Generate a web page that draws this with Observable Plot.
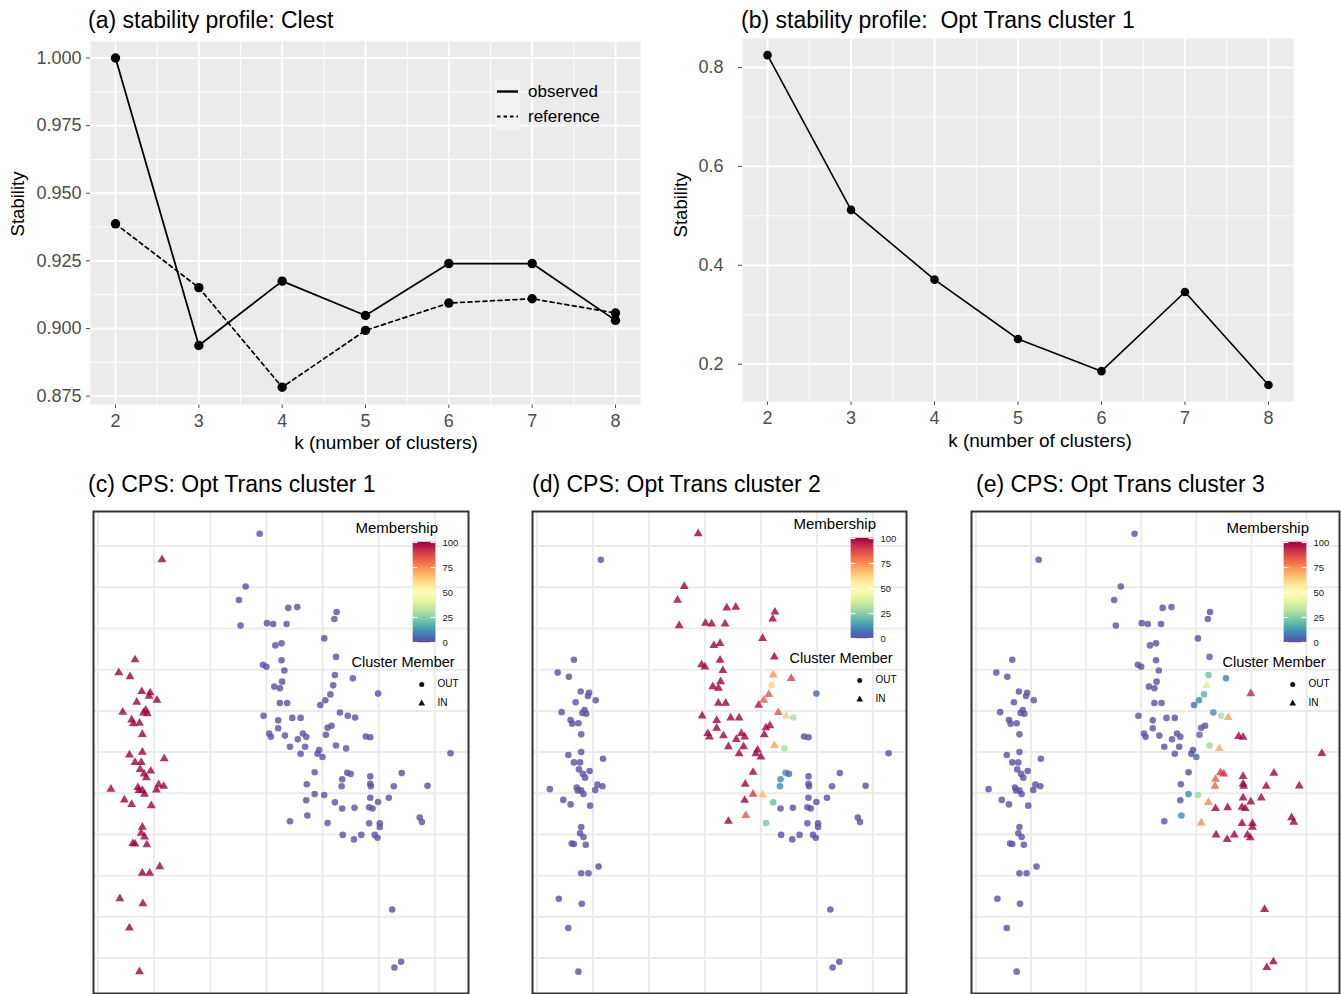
<!DOCTYPE html>
<html><head><meta charset="utf-8">
<script src="https://cdn.jsdelivr.net/npm/d3@7"></script>
<script src="https://cdn.jsdelivr.net/npm/@observablehq/plot@0.6"></script>
<style>
html,body{margin:0;padding:0;background:#fff;}
#root{position:relative;width:1341px;height:994px;overflow:hidden;font-family:"Liberation Sans",Arial,Helvetica,sans-serif;background:#fff;}
.t{position:absolute;white-space:pre;line-height:1;transform:translateY(-50%);color:#000;}
.tc{position:absolute;white-space:pre;line-height:1;transform:translate(-50%,-50%);color:#000;}
.tr{position:absolute;white-space:pre;line-height:1;transform:translate(-50%,-50%) rotate(-90deg);color:#000;}
.box{position:absolute;}
</style></head><body><div id="root"></div>
<script>
// ---------------- data: stability profiles ----------------
const kValues = [2, 3, 4, 5, 6, 7, 8];
const kMinor = [2.5, 3.5, 4.5, 5.5, 6.5, 7.5];
const clestObserved  = [1.000, 0.8937, 0.9175, 0.9048, 0.9240, 0.9240, 0.9030];
const clestReference = [0.9387, 0.9151, 0.8783, 0.8993, 0.9094, 0.9110, 0.9057];
const clestMajorY = [0.875, 0.900, 0.925, 0.950, 0.975, 1.000];
const clestMinorY = [0.8875, 0.9125, 0.9375, 0.9625, 0.9875];
const optTransStability = [0.825, 0.512, 0.371, 0.251, 0.186, 0.346, 0.158];
const optMajorY = [0.2, 0.4, 0.6, 0.8];
const optMinorY = [0.3, 0.5, 0.7];
const legendSeries = ["observed", "reference"];

// ---------------- data: CPS point map (shared layout, grid units) ----------------
const pointX = [
  1.14,0.66,0.37,0.57,0.78,0.93,0.91,0.69,1.05,0.44,
  0.85,0.81,0.88,0.60,0.63,0.74,0.79,0.56,0.79,1.18,
  0.66,0.77,0.75,0.94,0.82,0.86,0.23,0.71,0.79,0.73,
  1.08,1.17,1.04,0.83,0.47,0.60,0.95,0.79,0.77,0.83,
  0.62,0.66,0.87,1.10,0.79,0.92,0.39,0.80,0.56,0.74,
  2.88,2.63,2.51,2.54,3.39,3.55,3.01,3.12,3.36,4.25,
  4.21,4.03,3.16,3.27,3.27,4.24,2.94,3.00,3.32,4.22,
  4.54,3.14,3.24,3.28,4.19,4.14,4.05,3.96,3.24,3.37,
  4.99,2.95,3.21,3.46,3.61,3.21,4.31,4.45,4.58,3.05,
  3.08,3.33,3.65,3.71,3.56,4.09,4.16,4.06,3.42,3.69,
  3.61,4.24,4.42,3.94,3.91,4.00,4.77,4.85,6.28,3.86,
  4.44,4.50,4.35,4.85,5.41,3.72,4.34,4.85,4.86,5.27,
  5.87,3.86,4.03,3.71,4.85,4.99,5.18,4.22,4.35,4.57,
  4.83,4.89,3.73,3.42,4.09,4.83,5.02,5.02,5.73,5.77,
  4.36,4.56,4.69,4.93,4.98,5.24,5.28,5.40
];
const pointY = [
  11.67,9.24,8.93,8.83,8.47,8.44,8.36,8.21,8.26,7.97,
  8.02,7.95,7.93,7.78,7.69,7.70,7.43,6.93,7.00,6.84,
  6.75,6.75,6.58,6.54,6.47,6.38,6.10,6.14,6.07,6.07,
  6.21,6.17,6.08,5.98,5.84,5.73,5.70,5.18,5.03,4.94,
  4.78,4.77,4.75,4.22,4.06,4.06,3.44,3.32,2.73,1.67,
  12.30,11.02,10.69,10.07,10.50,10.52,10.13,10.11,10.11,10.40,
  10.23,9.76,9.59,9.64,9.23,9.31,9.12,9.07,8.98,8.87,
  8.79,8.59,8.55,8.71,8.62,8.40,8.26,8.14,8.19,8.19,
  8.42,7.88,7.77,7.83,7.83,7.58,7.96,7.88,7.84,7.45,
  7.37,7.40,7.45,7.37,7.31,7.59,7.64,7.42,7.13,7.13,
  6.96,7.16,7.09,7.05,6.96,6.88,7.38,7.36,6.97,6.51,
  6.50,6.47,6.34,6.41,6.49,6.22,6.17,6.23,6.17,6.17,
  6.18,5.98,5.96,5.83,5.89,5.79,5.89,5.78,5.63,5.65,
  5.66,5.63,5.46,5.32,5.28,5.27,5.27,5.18,5.41,5.30,
  4.99,4.88,4.99,4.99,4.92,3.18,1.77,1.91
];
// membership (0-100) and cluster-member flag (1 = IN, 0 = OUT) for each panel
const membershipC = [
  100,100,100,100,100,100,100,100,100,100,
  100,100,100,100,100,100,100,100,100,100,
  100,100,100,100,100,100,100,100,100,100,
  100,100,100,100,100,100,100,100,100,100,
  100,100,100,100,100,100,100,100,100,100,
  0,0,0,0,0,0,0,0,0,0, 0,0,0,0,0,0,0,0,0,0,
  0,0,0,0,0,0,0,0,0,0, 0,0,0,0,0,0,0,0,0,0,
  0,0,0,0,0,0,0,0,0,0, 0,0,0,0,0,0,0,0,0,0,
  0,0,0,0,0,0,0,0,0,0, 0,0,0,0,0,0,0,0,0,0,
  0,0,0,0,0,0,0,0,0,0, 0,0,0,0,0,0,0,0
];
const memberC = [
  1,1,1,1,1,1,1,1,1,1, 1,1,1,1,1,1,1,1,1,1,
  1,1,1,1,1,1,1,1,1,1, 1,1,1,1,1,1,1,1,1,1,
  1,1,1,1,1,1,1,1,1,1,
  0,0,0,0,0,0,0,0,0,0, 0,0,0,0,0,0,0,0,0,0,
  0,0,0,0,0,0,0,0,0,0, 0,0,0,0,0,0,0,0,0,0,
  0,0,0,0,0,0,0,0,0,0, 0,0,0,0,0,0,0,0,0,0,
  0,0,0,0,0,0,0,0,0,0, 0,0,0,0,0,0,0,0,0,0,
  0,0,0,0,0,0,0,0,0,0, 0,0,0,0,0,0,0,0
];
const membershipD = [
  0,0,0,0,0,0,0,0,0,0, 0,0,0,0,0,0,0,0,0,0,
  0,0,0,0,0,0,0,0,0,0, 0,0,0,0,0,0,0,0,0,0,
  0,0,0,0,0,0,0,0,0,0,
  100,100,100,100,100,100,100,100,100,100,
  100,100,100,100,100,100,100,100,100,75,
  90,100,100,100,62,85,83,97,100,100,
  4,100,100,100,100,100,86,64,30,100,
  100,100,100,100,100,100,100,100,100,100,
  100,72,30,100,100,100,0,0,0,100,
  10,5,10,0,0,100,10,0,0,0,
  0,90,68,100,0,0,0,20,0,0,
  0,0,85,100,22,0,0,0,0,0,
  0,0,0,0,0,0,0,0
];
const memberD = [
  0,0,0,0,0,0,0,0,0,0, 0,0,0,0,0,0,0,0,0,0,
  0,0,0,0,0,0,0,0,0,0, 0,0,0,0,0,0,0,0,0,0,
  0,0,0,0,0,0,0,0,0,0,
  1,1,1,1,1,1,1,1,1,1,
  1,1,1,1,1,1,1,1,1,1,
  1,1,1,1,0,1,1,1,1,1,
  0,1,1,1,1,1,1,1,0,1,
  1,1,1,1,1,1,1,1,1,1,
  1,1,0,1,1,1,0,0,0,1,
  0,0,0,0,0,1,0,0,0,0,
  0,1,1,1,0,0,0,0,0,0,
  0,0,1,1,0,0,0,0,0,0,
  0,0,0,0,0,0,0,0
];
const membershipE = [
  0,0,0,0,0,0,0,0,0,0, 0,0,0,0,0,0,0,0,0,0,
  0,0,0,0,0,0,0,0,0,0, 0,0,0,0,0,0,0,0,0,0,
  0,0,0,0,0,0,0,0,0,0,
  0,0,0,0,0,0,0,0,0,0,
  0,0,0,0,0,3,0,0,0,20,
  8,0,0,0,38,18,10,5,0,0,
  95,0,0,0,0,0,10,30,72,0,
  0,0,0,0,0,0,0,4,0,0,
  0,28,70,0,0,5,100,100,100,0,
  90,92,83,100,100,0,83,100,100,100,
  100,10,28,0,100,100,100,76,100,100,
  100,100,10,0,76,100,100,100,100,100,
  100,100,100,100,100,100,100,100
];
const memberE = [
  0,0,0,0,0,0,0,0,0,0, 0,0,0,0,0,0,0,0,0,0,
  0,0,0,0,0,0,0,0,0,0, 0,0,0,0,0,0,0,0,0,0,
  0,0,0,0,0,0,0,0,0,0,
  0,0,0,0,0,0,0,0,0,0,
  0,0,0,0,0,0,0,0,0,0,
  0,0,0,0,1,0,0,0,0,0,
  1,0,0,0,0,0,0,0,1,0,
  0,0,0,0,0,0,0,0,0,0,
  0,0,1,0,0,0,1,1,1,0,
  1,1,1,1,1,0,1,1,1,1,
  1,0,0,0,1,1,1,1,1,1,
  1,1,0,0,1,1,1,1,1,1,
  1,1,1,1,1,1,1,1
];
const scatterGridX = [0, 1, 2, 3, 4, 5, 6];
const scatterGridY = [1, 2, 3, 4, 5, 6, 7, 8, 9, 10, 11, 12];
const scatterXDomain = [-0.08, 6.6];
const scatterYDomain = [1.14, 12.84];
const membershipTicks = [0, 25, 50, 75, 100];
const memberKeys = ["OUT", "IN"];

// ---------------- helpers ----------------
const FONT = '"Liberation Sans", Arial, Helvetica, sans-serif';
const root = document.getElementById("root");
function place(node, left, top) {
  const d = document.createElement("div");
  d.className = "box";
  d.style.left = left + "px"; d.style.top = top + "px";
  d.appendChild(node); root.appendChild(d); return d;
}
function label(cls, text, x, y, size, extra) {
  const d = document.createElement("div");
  d.className = cls; d.textContent = text;
  d.style.left = x + "px"; d.style.top = y + "px"; d.style.fontSize = size + "px";
  if (extra) Object.assign(d.style, extra);
  root.appendChild(d); return d;
}
const baseStyle = (fs, color) => ({background: "transparent", fontFamily: FONT, fontSize: fs + "px", color: color || "#4D4D4D", overflow: "visible", maxWidth: "none"});
const colorScale = {type: "linear", domain: [0, 100], scheme: "spectral", reverse: true};
const symbolScale = {domain: memberKeys, range: ["circle", "triangle"]};

// ---------------- panel (a) ----------------
const obsRows = kValues.map((k, i) => ({k, v: clestObserved[i]}));
const refRows = kValues.map((k, i) => ({k, v: clestReference[i]}));
const plotA = Plot.plot({
  width: 660, height: 460, marginLeft: 90, marginRight: 20, marginTop: 41, marginBottom: 56,
  style: baseStyle(18),
  x: {domain: [1.7, 8.3], ticks: kValues, tickSize: 4, tickPadding: 6, tickFormat: d => String(d), label: null},
  y: {domain: [0.8719, 1.0061], ticks: clestMajorY, tickSize: 4, tickPadding: 5, tickFormat: ".3f", label: null},
  marks: [
    Plot.frame({fill: "#EBEBEB", stroke: "none"}),
    Plot.ruleY(clestMinorY, {stroke: "#fff", strokeWidth: 0.9}),
    Plot.ruleX(kMinor, {stroke: "#fff", strokeWidth: 0.9}),
    Plot.ruleY(clestMajorY, {stroke: "#fff", strokeWidth: 1.8}),
    Plot.ruleX(kValues, {stroke: "#fff", strokeWidth: 1.8}),
    Plot.line(refRows, {x: "k", y: "v", stroke: "#000", strokeWidth: 1.7, strokeDasharray: "4,3.5"}),
    Plot.line(obsRows, {x: "k", y: "v", stroke: "#000", strokeWidth: 1.8}),
    Plot.dot(refRows, {x: "k", y: "v", fill: "#000", r: 4.7}),
    Plot.dot(obsRows, {x: "k", y: "v", fill: "#000", r: 4.7})
  ]
});
place(plotA, 0, 0);

// ---------------- panel (b) ----------------
const optRows = kValues.map((k, i) => ({k, v: optTransStability[i]}));
const plotB = Plot.plot({
  width: 681, height: 460, marginLeft: 82, marginRight: 48, marginTop: 38, marginBottom: 59,
  style: baseStyle(18),
  x: {domain: [1.7, 8.3], ticks: kValues, tickSize: 4, tickPadding: 6, tickFormat: d => String(d), label: null},
  y: {domain: [0.1246, 0.8586], ticks: optMajorY, tickSize: 4, tickPadding: 15, tickFormat: ".1f", label: null},
  marks: [
    Plot.frame({fill: "#EBEBEB", stroke: "none"}),
    Plot.ruleY(optMinorY, {stroke: "#fff", strokeWidth: 0.9}),
    Plot.ruleX(kMinor, {stroke: "#fff", strokeWidth: 0.9}),
    Plot.ruleY(optMajorY, {stroke: "#fff", strokeWidth: 1.8}),
    Plot.ruleX(kValues, {stroke: "#fff", strokeWidth: 1.8}),
    Plot.line(optRows, {x: "k", y: "v", stroke: "#000", strokeWidth: 1.6}),
    Plot.dot(optRows, {x: "k", y: "v", fill: "#000", r: 4.3})
  ]
});
place(plotB, 660, 0);

// titles & axis titles of top row
label("t", "(a) stability profile: Clest", 88, 20, 23);
label("t", "(b) stability profile:  Opt Trans cluster 1", 741, 20, 23);
label("tc", "k (number of clusters)", 386, 441.5, 19);
label("tc", "k (number of clusters)", 1040, 439.5, 19);
label("tr", "Stability", 18, 204, 18.5);
label("tr", "Stability", 681, 205, 18.5);

// legend of (a)
const keyBox = document.createElement("div");
keyBox.innerHTML = '<svg width="25" height="50" style="display:block;background:#F2F2F2">' +
  '<line x1="2" x2="23" y1="11.5" y2="11.5" stroke="#000" stroke-width="2.4"/>' +
  '<line x1="2" x2="23" y1="36.5" y2="36.5" stroke="#000" stroke-width="2" stroke-dasharray="3.5,3"/></svg>';
place(keyBox, 495, 80);
label("t", legendSeries[0], 528, 91, 17);
label("t", legendSeries[1], 528, 116, 17);

// ---------------- scatter panels ----------------
function scatterPanel(mem, flags, frameWidth) {
  const rows = pointX.map((x, i) => ({x, y: pointY[i], m: mem[i], s: flags[i] ? "IN" : "OUT"}));
  return Plot.plot({
    width: frameWidth + 2, height: 484, margin: 1,
    style: baseStyle(10),
    x: {domain: scatterXDomain, axis: null},
    y: {domain: scatterYDomain, axis: null},
    color: colorScale, symbol: symbolScale,
    marks: [
      Plot.ruleX(scatterGridX, {stroke: "#EBEBEB", strokeWidth: 2}),
      Plot.ruleY(scatterGridY, {stroke: "#EBEBEB", strokeWidth: 2}),
      Plot.dot(rows, {x: "x", y: "y", fill: "m", symbol: "s", r: 3.3, fillOpacity: 0.8, stroke: "none"}),
      Plot.frame({stroke: "#333", strokeWidth: 2})
    ]
  });
}
function colorbar() {
  const steps = d3.range(0, 100, 1);
  return Plot.plot({
    width: 52, height: 112, marginLeft: 0, marginRight: 30, marginTop: 6, marginBottom: 6,
    style: baseStyle(9, "#1a1a1a"),
    x: {domain: [0, 1], axis: null}, y: {domain: [0, 100], axis: null},
    color: colorScale,
    marks: [
      Plot.rect(steps, {x1: 0, x2: 1, y1: d => d, y2: d => d + 1, fill: d => d + 0.5, stroke: d => d + 0.5, strokeWidth: 0.5}),
      Plot.ruleY(membershipTicks, {y: d => d, x1: 0, x2: 0.2, stroke: "#fff", strokeWidth: 1.2}),
      Plot.ruleY(membershipTicks, {y: d => d, x1: 0.8, x2: 1, stroke: "#fff", strokeWidth: 1.2}),
      Plot.text(membershipTicks, {x: 1, y: d => d, text: d => String(d), textAnchor: "start", dx: 7, fill: "#1a1a1a", fontSize: 9.5})
    ]
  });
}
function symbolKeys() {
  return Plot.plot({
    width: 18.5, height: 31.6, margin: 0,
    style: Object.assign(baseStyle(9), {background: "#fff"}),
    x: {domain: [0, 1], axis: null},
    y: {type: "point", domain: memberKeys, padding: 0.314, axis: null},
    symbol: symbolScale,
    marks: [Plot.dot(memberKeys, {x: 0.5, y: d => d, symbol: d => d, fill: "#111", r: 2.5})]
  });
}
function addLegend(fr, top, dy) {
  label("t", "Membership", fr - 112.5, top + 16 + dy, 15);
  place(colorbar(), fr - 55, top + 30.5 + dy - 6);
  label("t", "Cluster Member", fr - 116.5, top + 151 + dy, 14.5);
  place(symbolKeys(), fr - 56, top + 166.5 + dy);
  label("t", memberKeys[0], fr - 30.5, top + 172.6 + dy, 10);
  label("t", memberKeys[1], fr - 30.5, top + 192 + dy, 10);
}

const panels = [
  {mem: membershipC, flags: memberC, left: 92, width: 375, title: "(c) CPS: Opt Trans cluster 1", tx: 88, dy: 0},
  {mem: membershipD, flags: memberD, left: 531, width: 374, title: "(d) CPS: Opt Trans cluster 2", tx: 532, dy: -4},
  {mem: membershipE, flags: memberE, left: 970, width: 368, title: "(e) CPS: Opt Trans cluster 3", tx: 976, dy: 0}
];
for (const p of panels) {
  place(scatterPanel(p.mem, p.flags, p.width), p.left, 510);
  label("t", p.title, p.tx, 484, 23);
  addLegend(p.left + 1 + p.width, 511, p.dy);
}
</script></body></html>
